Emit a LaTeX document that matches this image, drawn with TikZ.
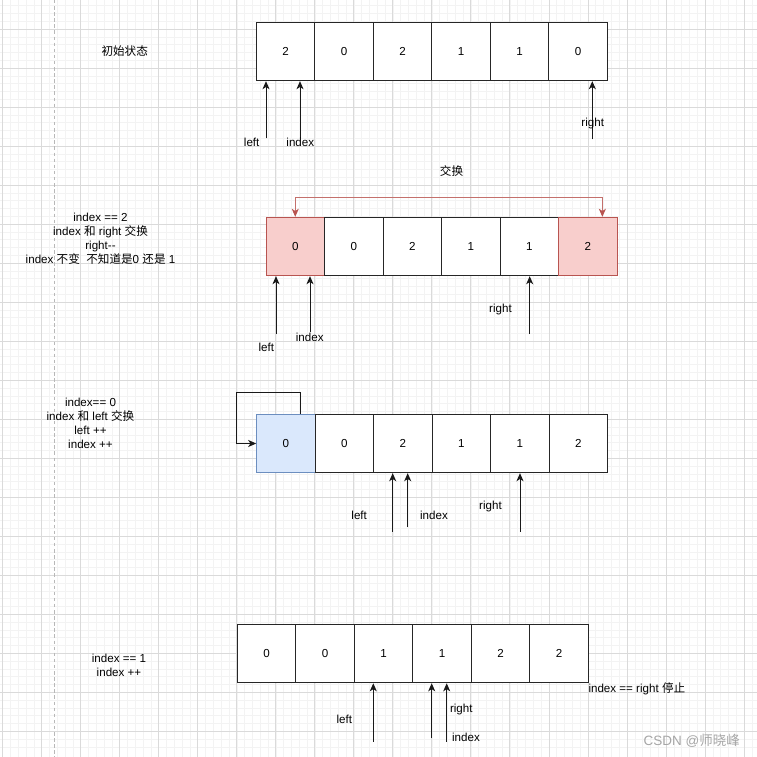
\documentclass[tikz,border=0pt]{standalone}
\usepackage{fontspec}
\setmainfont{Liberation Sans}
\newfontfamily\cjk{Noto Sans CJK SC}
\usetikzlibrary{arrows.meta,calc}
\definecolor{gridminor}{HTML}{F3F3F3}
\definecolor{gridmajor}{HTML}{DADADA}
\definecolor{dashgray}{HTML}{B8B8B8}
\definecolor{redstroke}{HTML}{B85450}
\definecolor{redline}{HTML}{C4706C}
\definecolor{redfill}{HTML}{F8CECC}
\definecolor{bluestroke}{HTML}{6C8EBF}
\definecolor{bluefill}{HTML}{DAE8FC}
\definecolor{wm}{HTML}{A6A6A6}
\tikzset{
  cell/.style={draw=black!85,line width=1pt,fill=white,minimum width=58.5pt,minimum height=58.4pt,inner sep=0pt,font=\fontsize{11.6}{14}\selectfont},
  redcell/.style={cell,draw=redstroke,fill=redfill},
  bluecell/.style={cell,draw=bluestroke,fill=bluefill},
  ptr/.style={draw=black!90,line width=1pt,-{Stealth[length=8pt,width=7pt,inset=2.2pt]}},
  swapline/.style={draw=redline,line width=1.1pt,{Stealth[length=8pt,width=7pt,inset=2.2pt,color=redstroke]}-{Stealth[length=8pt,width=7pt,inset=2.2pt,color=redstroke]}},
  lbl/.style={inner sep=0pt,font=\fontsize{11.6}{14}\selectfont},
  note/.style={inner sep=0pt,align=center,font=\fontsize{11.6}{14}\selectfont},
  minorline/.style={draw=gridminor,line width=0.6pt},
  majorline/.style={draw=gridmajor,line width=0.9pt}
}
\begin{document}
\begin{tikzpicture}[x=1pt,y=-1pt]
\useasboundingbox (0,0) rectangle (757,757);
\fill[white] (0,0) rectangle (757,757);
% grid
\begin{scope}
\clip (0,0) rectangle (757,757);
\foreach \k in {0,...,97} {
  \pgfmathsetmacro\xx{2.68+7.804*\k}
  \draw[minorline] (\xx,0) -- (\xx,757);
  \pgfmathsetmacro\yy{-10+7.804*\k}
  \draw[minorline] (0,\yy) -- (757,\yy);
}
\foreach \k in {0,...,19} {
  \pgfmathsetmacro\xx{2.68+39.02*\k}
  \draw[majorline] (\xx,0) -- (\xx,757);
  \pgfmathsetmacro\yy{-10+39.02*\k}
  \draw[majorline] (0,\yy) -- (757,\yy);
}
\end{scope}
% dashed divider
\coordinate (dtop) at (54.3,0);
\coordinate (dbot) at (54.3,757);
\draw[dashgray,line width=1.1pt,dash pattern=on 3.5pt off 2.6pt] (dtop) -- (dbot);

% ---------- Row 1 ----------
\node[note] (n1) at (124.7,50.7) {{\cjk 初始状态}};
\foreach \v [count=\i from 0] in {2,0,2,1,1,0}
  \node[cell] (c1\i) at ({256.3+29.25+58.5*\i},51.5) {\v};
\coordinate (l1s) at (266,138.3);
\coordinate (i1s) at (300,138.3);
\coordinate (r1s) at (592.3,139.3);
\draw[ptr] (l1s) -- (l1s |- c10.south);
\draw[ptr] (i1s) -- (i1s |- c10.south);
\draw[ptr] (r1s) -- (r1s |- c15.south);
\node[lbl] (l1) at (251.7,142.7) {left};
\node[lbl] (i1) at (300.3,142.7) {index};
\node[lbl] (r1) at (592.7,124) {right};

% ---------- Row 2 ----------
\node[note] (n2) at (100.5,239) {index == 2\\index {\cjk 和} right {\cjk 交换}\\right-{}-\\index {\cjk 不变}\ \ {\cjk 不知道是}0 {\cjk 还是} 1};
\node[lbl] (sw) at (451.5,171) {{\cjk 交换}};
\foreach \v/\s [count=\i from 0] in {0/redcell,0/cell,2/cell,1/cell,1/cell,2/redcell}
  \node[\s] (c2\i) at ({266+29.25+58.5*\i},246.5) {\v};
\draw[swapline] (c20.north) -- ++(0,-19.6) -| ($(c25.north)+(14.6,0)$);
\coordinate (l2s) at (276,334);
\coordinate (i2s) at (310,332.3);
\coordinate (r2s) at (529.7,334);
\draw[ptr] (l2s) -- (l2s |- c20.south);
\draw[ptr] (i2s) -- (i2s |- c20.south);
\draw[ptr] (r2s) -- (r2s |- c24.south);
\node[lbl] (l2) at (266.3,347.7) {left};
\node[lbl] (i2) at (309.7,337.7) {index};
\node[lbl] (r2) at (500.5,309) {right};

% ---------- Row 3 ----------
\node[note] (n3) at (90.5,423.5) {index== 0\\index {\cjk 和} left {\cjk 交换}\\left ++\\index ++};
\foreach \v/\s [count=\i from 0] in {0/bluecell,0/cell,2/cell,1/cell,1/cell,2/cell}
  \node[\s] (c3\i) at ({256.7+29.25+58.5*\i},443.5) {\v};
\draw[ptr] ($(c30.north)+(14.3,0)$) -- ++(0,-21.6) -| ($(c30.west)+(-19.7,0)$) -- (c30.west);
\coordinate (l3s) at (392.7,531.7);
\coordinate (i3s) at (407.7,527.3);
\coordinate (r3s) at (520,531.7);
\draw[ptr] (l3s) -- (l3s |- c32.south);
\draw[ptr] (i3s) -- (i3s |- c32.south);
\draw[ptr] (r3s) -- (r3s |- c34.south);
\node[lbl] (l3) at (359.2,515.7) {left};
\node[lbl] (i3) at (434,515.7) {index};
\node[lbl] (r3) at (490.5,506) {right};

% ---------- Row 4 ----------
\node[note] (n4) at (119,665) {index == 1\\index ++};
\foreach \v [count=\i from 0] in {0,0,1,1,2,2}
  \node[cell] (c4\i) at ({237.3+29.25+58.5*\i},653.6) {\v};
\coordinate (l4s) at (373.3,741.7);
\coordinate (r4s) at (431.7,738);
\coordinate (i4s) at (446.7,741.7);
\draw[ptr] (l4s) -- (l4s |- c42.south);
\draw[ptr] (r4s) -- (r4s |- c43.south);
\draw[ptr] (i4s) -- (i4s |- c43.south);
\node[lbl] (l4) at (344.3,719) {left};
\node[lbl] (r4) at (461.3,709) {right};
\node[lbl] (i4) at (466,737.3) {index};
\node[lbl,anchor=west] (stop) at (588.3,688.3) {index == right {\cjk 停止}};

% watermark
\node[lbl,text=wm,font=\fontsize{13.5}{16}\selectfont] (wmk) at (691.7,741) {CSDN @{\cjk 师晓峰}};
\end{tikzpicture}
\end{document}
